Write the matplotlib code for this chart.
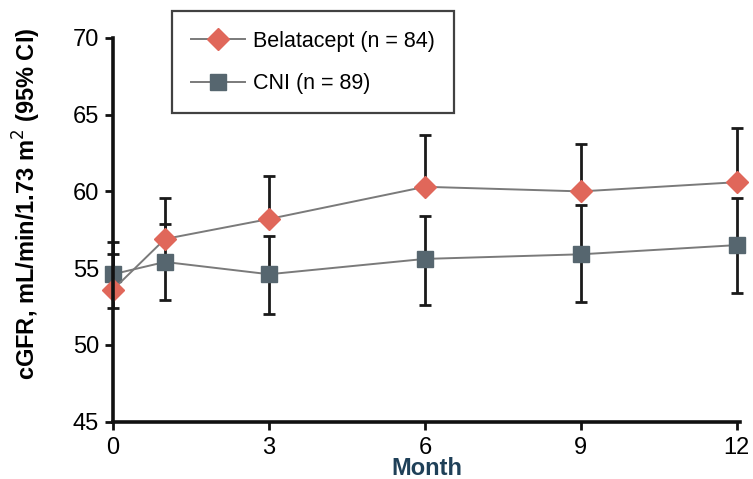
import matplotlib.pyplot as plt

# datos
months = [0, 1, 3, 6, 9, 12]
belatacept = [53.6, 56.9, 58.2, 60.3, 60.0, 60.6]
belatacept_upper = [55.9, 59.6, 61.0, 63.7, 63.1, 64.1]
cni = [54.6, 55.4, 54.6, 55.6, 55.9, 56.5]
cni_upper = [56.7, 57.9, 57.1, 58.4, 59.1, 59.6]
cni_lower = [52.4, 52.9, 52.0, 52.6, 52.8, 53.4]
xticks = [0, 3, 6, 9, 12]
yticks = [45, 50, 55, 60, 65, 70]

plt.rcParams['font.family'] = ['Liberation Sans', 'DejaVu Sans']

fig = plt.figure(figsize=(7.53, 4.79), dpi=100)
ax = fig.add_axes([0.1501, 0.120, 0.8326, 0.8007])

# barras de error (Belatacept solo arriba, CNI a ambos lados)
b_err = [[0] * len(months), [u - v for u, v in zip(belatacept_upper, belatacept)]]
c_err = [[v - l for v, l in zip(cni, cni_lower)], [u - v for u, v in zip(cni_upper, cni)]]
for y, e in [(cni, c_err), (belatacept, b_err)]:
    eb = ax.errorbar(months, y, yerr=e, fmt='none', ecolor='#1a1a1a', elinewidth=2,
                     capsize=4.5, capthick=2, zorder=2)
    for art in eb.lines[1] + eb.lines[2]:
        art.set_clip_on(False)

# lineas con marcadores
ax.plot(months, cni, color='#7a7a7a', lw=1.4, marker='s', ms=12,
        mfc='#56666f', mec='#56666f', label='CNI (n = 89)', zorder=3, clip_on=False)
ax.plot(months, belatacept, color='#7a7a7a', lw=1.4, marker='D', ms=11.5,
        mfc='#e0675a', mec='#e0675a', label='Belatacept (n = 84)', zorder=4, clip_on=False)

ax.set_xlim(0, 12.06)
ax.set_ylim(45, 70)
ax.set_xticks(xticks)
ax.set_yticks(yticks)
ax.tick_params(axis='both', labelsize=17, width=2, length=6, direction='out', color='#111111')
ax.tick_params(axis='x', pad=5)
ax.tick_params(axis='y', pad=4)
for s in ['top', 'right']:
    ax.spines[s].set_visible(False)
for s in ['left', 'bottom']:
    ax.spines[s].set_linewidth(2.6)
    ax.spines[s].set_color('#111111')
ax.spines['left'].set_zorder(5)

ax.set_ylabel('cGFR, mL/min/1.73 m$^2$ (95% CI)', fontsize=17, fontweight='bold')
ax.yaxis.set_label_coords(-0.112, 0.567)
ax.set_xlabel('Month', fontsize=17, fontweight='bold', color='#1f4058', labelpad=-1.5)

handles, labels = ax.get_legend_handles_labels()
leg = ax.legend(handles[::-1], labels[::-1], loc='upper left', bbox_to_anchor=(0.094, 1.07),
                fontsize=15.5, frameon=True, fancybox=False, edgecolor='#111111',
                handlelength=2.5, handletextpad=0.35, borderpad=0.9, labelspacing=1.0,
                borderaxespad=0)
leg.get_frame().set_linewidth(1.6)

fig.savefig('out.png', dpi=100)
